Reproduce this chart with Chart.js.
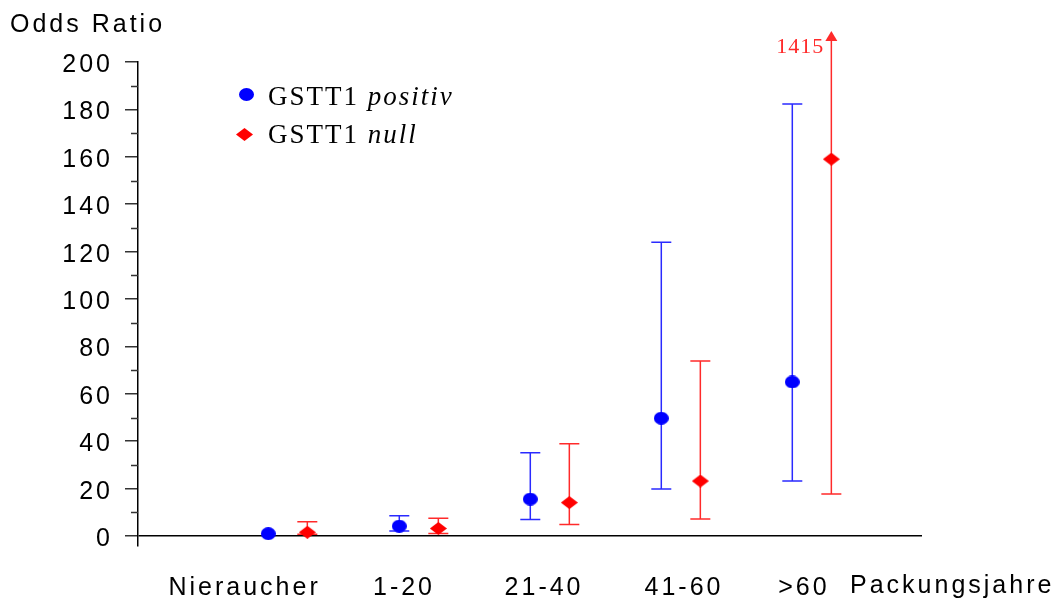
<!DOCTYPE html>
<html>
<head>
<meta charset="utf-8">
<script src="https://cdn.jsdelivr.net/npm/chart.js@4/dist/chart.umd.min.js"></script>
<style>
html, body { margin: 0; padding: 0; background: #fff; }
</style>
</head>
<body>
<canvas id="chart" width="1055" height="599"></canvas>
<script>
// data
const categories = ['Nieraucher', '1-20', '21-40', '41-60', '>60'];
const labelPos = [-0.33, 0.887, 1.956, 3.024, 3.94];
const positivOR = [1, 4.2, 15.6, 49.7, 65];
const positivLow = [null, 2.1, 7.0, 19.8, 23.2];
const positivHigh = [null, 8.6, 35.1, 124, 182.3];
const nullOR = [1.6, 3.2, 14.1, 23.2, 159];
const nullLow = [0.8, 1.1, 4.9, 7.2, 17.7];
const nullHigh = [6.0, 7.5, 38.9, 73.8, 1415];
const yTicks = [0, 20, 40, 60, 80, 100, 120, 140, 160, 180, 200];
const yMinor = [10, 30, 50, 70, 90, 110, 130, 150, 170, 190];

const BLUE = '#0000ff';
const RED = '#ff0000';
const SANS = "'Liberation Sans', Arial, sans-serif";
const SERIF = "'Liberation Serif', 'Times New Roman', serif";
const OFFSET = 0.149;

function markerCanvas(shape, color) {
    const c = document.createElement('canvas');
    const w = shape === 'dot' ? 15 : 17;
    const h = shape === 'dot' ? 13 : 13;
    c.width = w; c.height = h;
    const g = c.getContext('2d');
    g.fillStyle = color;
    g.beginPath();
    if (shape === 'dot') {
        g.ellipse(w / 2, h / 2, w / 2, h / 2, 0, 0, Math.PI * 2);
    } else {
        g.moveTo(w / 2, 0);
        g.lineTo(w, h / 2);
        g.lineTo(w / 2, h);
        g.lineTo(0, h / 2);
        g.closePath();
    }
    g.fill();
    return c;
}
const dotImg = markerCanvas('dot', BLUE);
const diaImg = markerCanvas('diamond', RED);

function errorBars(chart, xs, low, high, color) {
    const ctx = chart.ctx;
    const xScale = chart.scales.x, yScale = chart.scales.y;
    ctx.save();
    ctx.strokeStyle = color;
    ctx.fillStyle = color;
    ctx.lineWidth = 1.5;
    for (let i = 0; i < xs.length; i++) {
        if (low[i] == null || high[i] == null) continue;
        const px = xScale.getPixelForValue(xs[i]);
        const yLo = yScale.getPixelForValue(low[i]);
        const over = high[i] > yScale.max;
        const yHi = over ? yScale.top - 31 : yScale.getPixelForValue(high[i]);
        ctx.beginPath();
        ctx.moveTo(px, yLo);
        ctx.lineTo(px, over ? yHi + 8 : yHi);
        ctx.moveTo(px - 10, yLo);
        ctx.lineTo(px + 10, yLo);
        if (!over) {
            ctx.moveTo(px - 10, yHi);
            ctx.lineTo(px + 10, yHi);
        }
        ctx.stroke();
        if (over) {
            ctx.beginPath();
            ctx.moveTo(px, yHi);
            ctx.lineTo(px + 6, yHi + 10);
            ctx.lineTo(px - 6, yHi + 10);
            ctx.closePath();
            ctx.fill();
            ctx.font = '22px ' + SERIF;
            ctx.letterSpacing = '1px';
            ctx.textAlign = 'right';
            ctx.textBaseline = 'alphabetic';
            ctx.fillText(String(high[i]), px - 7, yHi + 22);
        }
    }
    ctx.restore();
}

const decorPlugin = {
    id: 'decor',
    beforeDraw(chart) {
        chart.ctx.letterSpacing = '3px';
    },
    beforeDatasetsDraw(chart) {
        errorBars(chart, categories.map((c, i) => i - OFFSET), positivLow, positivHigh, '#2a2aff');
        errorBars(chart, categories.map((c, i) => i + OFFSET), nullLow, nullHigh, '#ff2a2a');
    },
    afterDraw(chart) {
        const ctx = chart.ctx;
        const yScale = chart.scales.y;
        ctx.save();
        // minor ticks
        ctx.strokeStyle = '#333';
        ctx.lineWidth = 1.5;
        ctx.beginPath();
        yMinor.forEach(v => {
            const py = Math.round(yScale.getPixelForValue(v)) + 0.5;
            ctx.moveTo(yScale.right - 7, py);
            ctx.lineTo(yScale.right, py);
        });
        ctx.stroke();

        ctx.fillStyle = '#000';
        ctx.font = '25px ' + SANS;
        ctx.letterSpacing = '3px';
        ctx.textAlign = 'left';
        ctx.textBaseline = 'alphabetic';
        ctx.fillText('Odds Ratio', 10, 32);
        ctx.fillText('Packungsjahre', 850, 593);

        // legend
        ctx.drawImage(dotImg, 239, 88);
        ctx.drawImage(diaImg, 236, 128);
        ctx.letterSpacing = '2px';
        const rows = [['GSTT1 ', 'positiv', 105], ['GSTT1 ', 'null', 143]];
        rows.forEach(r => {
            ctx.font = '27px ' + SERIF;
            ctx.fillText(r[0], 268, r[2]);
            const w = ctx.measureText(r[0]).width;
            ctx.font = 'italic 27px ' + SERIF;
            ctx.fillText(r[1], 268 + w, r[2]);
        });
        ctx.restore();
    }
};

new Chart(document.getElementById('chart').getContext('2d'), {
    type: 'scatter',
    data: {
        datasets: [{
            label: 'GSTT1 positiv',
            data: positivOR.map((v, i) => ({ x: i - OFFSET, y: v })),
            pointStyle: dotImg,
            backgroundColor: BLUE,
            borderColor: BLUE
        }, {
            label: 'GSTT1 null',
            data: nullOR.map((v, i) => ({ x: i + OFFSET, y: v })),
            pointStyle: diaImg,
            backgroundColor: RED,
            borderColor: RED
        }]
    },
    options: {
        responsive: false,
        animation: false,
        devicePixelRatio: 1,
        events: [],
        layout: { padding: { top: 62, right: 133, left: 0, bottom: 0 } },
        plugins: { legend: { display: false }, tooltip: { enabled: false } },
        scales: {
            x: {
                type: 'linear',
                min: -1.1435,
                max: 4.841,
                border: { display: false },
                grid: { display: false, drawTicks: false },
                afterBuildTicks: function (scale) {
                    scale.ticks = labelPos.map(v => ({ value: v }));
                },
                afterFit: function (scale) { scale.height = 53; },
                ticks: {
                    autoSkip: false,
                    maxRotation: 0,
                    padding: 27,
                    color: '#000',
                    font: { family: SANS, size: 25 },
                    callback: function (v, i) { return categories[i]; }
                }
            },
            y: {
                min: -4.2,
                max: 200,
                border: { display: true, color: '#000', width: 1.5 },
                grid: {
                    color: ctx => (ctx.tick && ctx.tick.value === 0 ? '#000' : 'rgba(0,0,0,0)'),
                    lineWidth: 1.5,
                    tickColor: '#333',
                    tickLength: 13,
                    tickWidth: 1.5
                },
                afterBuildTicks: function (scale) {
                    scale.ticks = yTicks.map(v => ({ value: v }));
                },
                afterFit: function (scale) { scale.width = 138; },
                ticks: {
                    padding: 12,
                    labelOffset: 3,
                    color: '#000',
                    font: { family: SANS, size: 25 }
                }
            }
        }
    },
    plugins: [decorPlugin]
});
</script>
</body>
</html>
